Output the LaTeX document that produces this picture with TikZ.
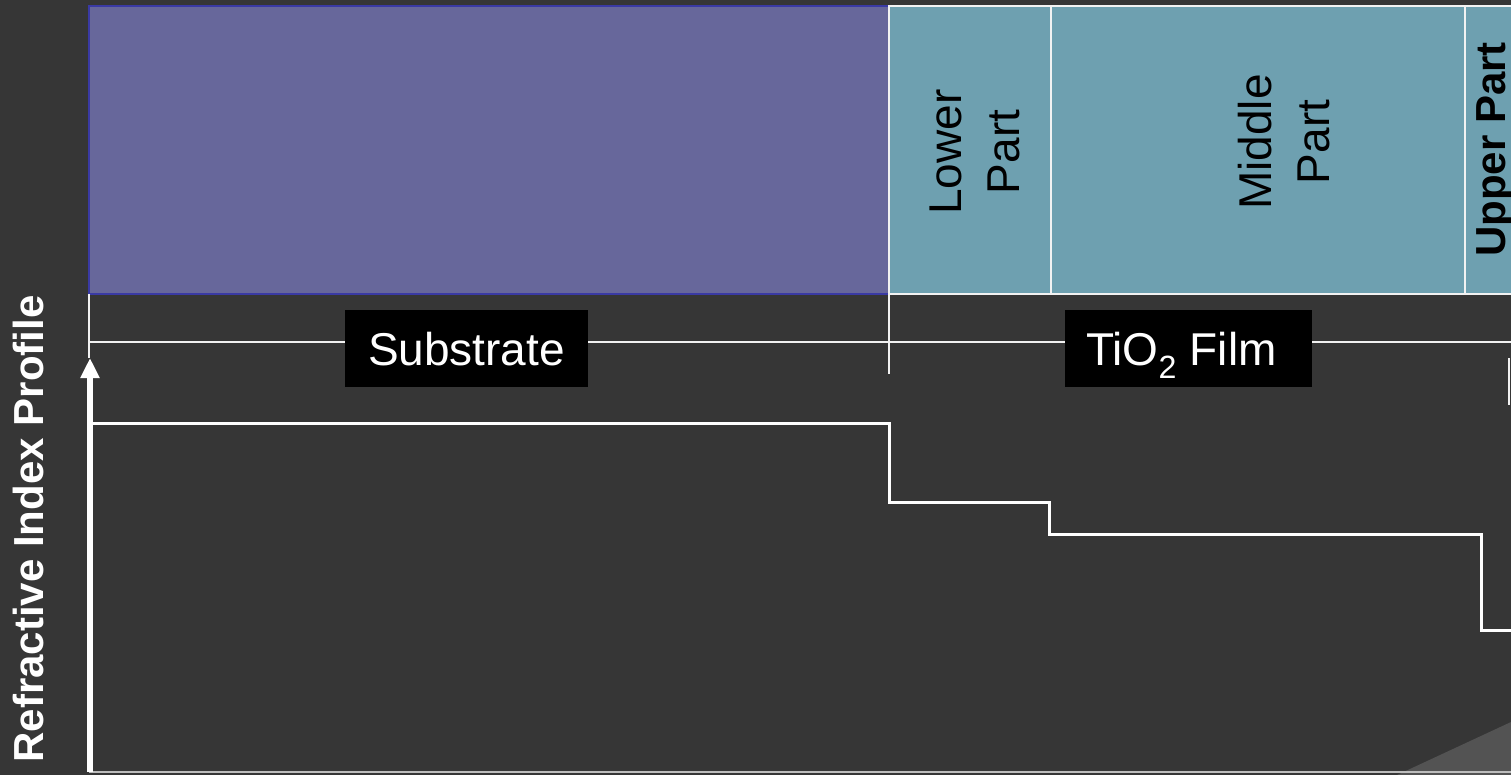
\documentclass[tikz,border=0pt]{standalone}
\usepackage{fontspec}
\setmainfont{Liberation Sans}
\usetikzlibrary{arrows.meta}
\definecolor{bgc}{HTML}{363636}
\definecolor{subfill}{HTML}{67679B}
\definecolor{subedge}{HTML}{3A3AA4}
\definecolor{filmfill}{HTML}{6EA0B0}
\definecolor{cornerc}{HTML}{535353}
\definecolor{linec}{HTML}{F2F2F2}
\definecolor{bottomc}{HTML}{BDBDBD}
\tikzset{
  whiteline/.style={draw=linec, line width=2.5pt},
  stepline/.style={draw=white, line width=3pt},
  partlabel/.style={rotate=90, align=center, text=black, inner sep=0pt, font=\fontsize{46}{58}\selectfont},
  boldlabel/.style={rotate=90, anchor=base, inner sep=0pt, font=\fontsize{42}{50}\selectfont\bfseries},
  tagbox/.style={fill=black, text=white, inner sep=0pt, minimum height=77pt, text height=33pt, text depth=0pt, font=\fontsize{46}{55}\selectfont},
}
\begin{document}
\begin{tikzpicture}[x=1pt,y=-1pt]
\useasboundingbox (0,0) rectangle (1511,775);
\fill[bgc] (0,0) rectangle (1511,775);
% page curl shadow
\fill[cornerc] (1397,775) -- (1511,722) -- (1511,775) -- cycle;
% bottom edge line
\draw[draw=bottomc, line width=2pt] (89,772) -- (1511,772);

% substrate block
\node[draw=subedge, fill=subfill, line width=2pt, minimum width=800pt, minimum height=288pt, inner sep=0pt] (sub) at (489,150) {};
% film block
\fill[filmfill] (889,6) rectangle (1520,294);
\coordinate (f0t) at (889,6);   \coordinate (f0b) at (889,294);
\coordinate (f1t) at (1051,6);  \coordinate (f1b) at (1051,294);
\coordinate (f2t) at (1465,6);  \coordinate (f2b) at (1465,294);
\coordinate (fet) at (1511,6);  \coordinate (feb) at (1511,294);
\draw[draw=linec, line width=2pt] (fet) -- (f0t) -- (f0b) -- (feb);
\draw[draw=linec, line width=2pt] (f1t) -- (f1b);
\draw[draw=linec, line width=2pt] (f2t) -- (f2b);

\node[partlabel] (lower) at (974.5,152) {Lower\\Part};
\node[partlabel] (middle) at (1284,142) {Middle\\Part};
\node[boldlabel, text=black] (upper) at (1505,149.5) {Upper Part};

% thickness scale line
\coordinate (sL) at (89,342);
\coordinate (sR) at (1511,342);
\draw[whiteline] (sL) -- (sR);
\coordinate (t1a) at (889,294); \coordinate (t1b) at (889,374);
\draw[whiteline] (t1a) -- (t1b);
\coordinate (t2a) at (1509,358); \coordinate (t2b) at (1509,405);
\draw[whiteline] (t2a) -- (t2b);
\coordinate (t0a) at (89,294); \coordinate (t0b) at (89,358);
\draw[draw=linec, line width=2pt] (t0a) -- (t0b);

\node[tagbox, minimum width=243pt] (substrate) at (466.5,348.5) {Substrate};
\node[tagbox, minimum width=247pt] (film) at (1188.5,348.5) {TiO\textsubscript{2} Film\hspace*{14pt}};

% axis arrow
\coordinate (ax0) at (90,772);
\coordinate (ax1) at (90,358);
\draw[draw=white, line width=5.5pt, -{Triangle[width=18pt,length=20pt]}] (ax0) -- (ax1);
\node[boldlabel, text=white] (axlabel) at (43,529) {Refractive Index Profile};

% refractive index step profile
\coordinate (p0) at (89,423);
\coordinate (p1) at (889,423);
\coordinate (p2) at (889,502);
\coordinate (p3) at (1049,502);
\coordinate (p4) at (1049,534);
\coordinate (p5) at (1481,534);
\coordinate (p6) at (1481,630);
\coordinate (p7) at (1511,630);
\draw[stepline] (p0) -- (p1) -- (p2) -- (p3) -- (p4) -- (p5) -- (p6) -- (p7);
\end{tikzpicture}
\end{document}
